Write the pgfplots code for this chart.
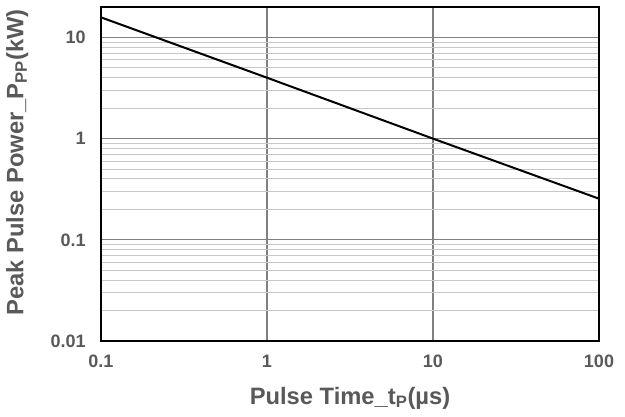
\documentclass[border=0pt]{standalone}
\usepackage{fontspec}
\setmainfont{Liberation Sans}
\usepackage{pgfplots}
\pgfplotsset{compat=1.18}
\definecolor{txtgray}{HTML}{595959}
\definecolor{majgrid}{HTML}{808080}
\definecolor{mingrid}{HTML}{C8C8C8}
\begin{document}
\begin{tikzpicture}
\begin{axis}[
  xmode=log, ymode=log,
  scale only axis,
  width=373.5pt, height=250.5pt,
  xmin=0.1, xmax=100, ymin=0.01, ymax=20,
  xtick={0.1,1,10,100}, xticklabels={0.1,1,10,100},
  ytick={0.01,0.1,1,10}, yticklabels={0.01,0.1,1,10},
  xminorgrids=false, xmajorgrids=true,
  ymajorgrids=true, yminorgrids=true,
  major grid style={color=majgrid, line width=0.8pt},
  minor grid style={color=mingrid, line width=0.8pt},
  major tick length=0pt, minor tick length=0pt,
  axis line style={black, line width=1.5pt},
  tick label style={font=\fontsize{13.5}{14}\selectfont\bfseries, text=txtgray},
  xticklabel style={yshift=-7pt},
  yticklabel style={xshift=-8pt},
  xlabel={Pulse Time\_t\textsubscript{P}(µs)},
  ylabel={Peak Pulse Power\_P\textsubscript{PP}(kW)},
  label style={font=\fontsize{17.8}{20}\selectfont\bfseries, text=txtgray},
  xlabel style={at={(axis description cs:0.5,0)}, anchor=north, yshift=-31pt},
  ylabel style={at={(axis description cs:0,0.535)}, anchor=south, yshift=51pt},
  clip=true,
]
\addplot[black, line width=1.5pt] coordinates {(0.1,15.8) (1,4.0) (10,1.0) (100,0.255)};
\end{axis}
\pgfresetboundingbox
\path (current axis.south west) ++(-75.75pt,-57pt) coordinate (bl);
\path (current axis.north east) ++(19.5pt,5.25pt) coordinate (tr);
\path (bl) rectangle (tr);
\end{tikzpicture}
\end{document}
